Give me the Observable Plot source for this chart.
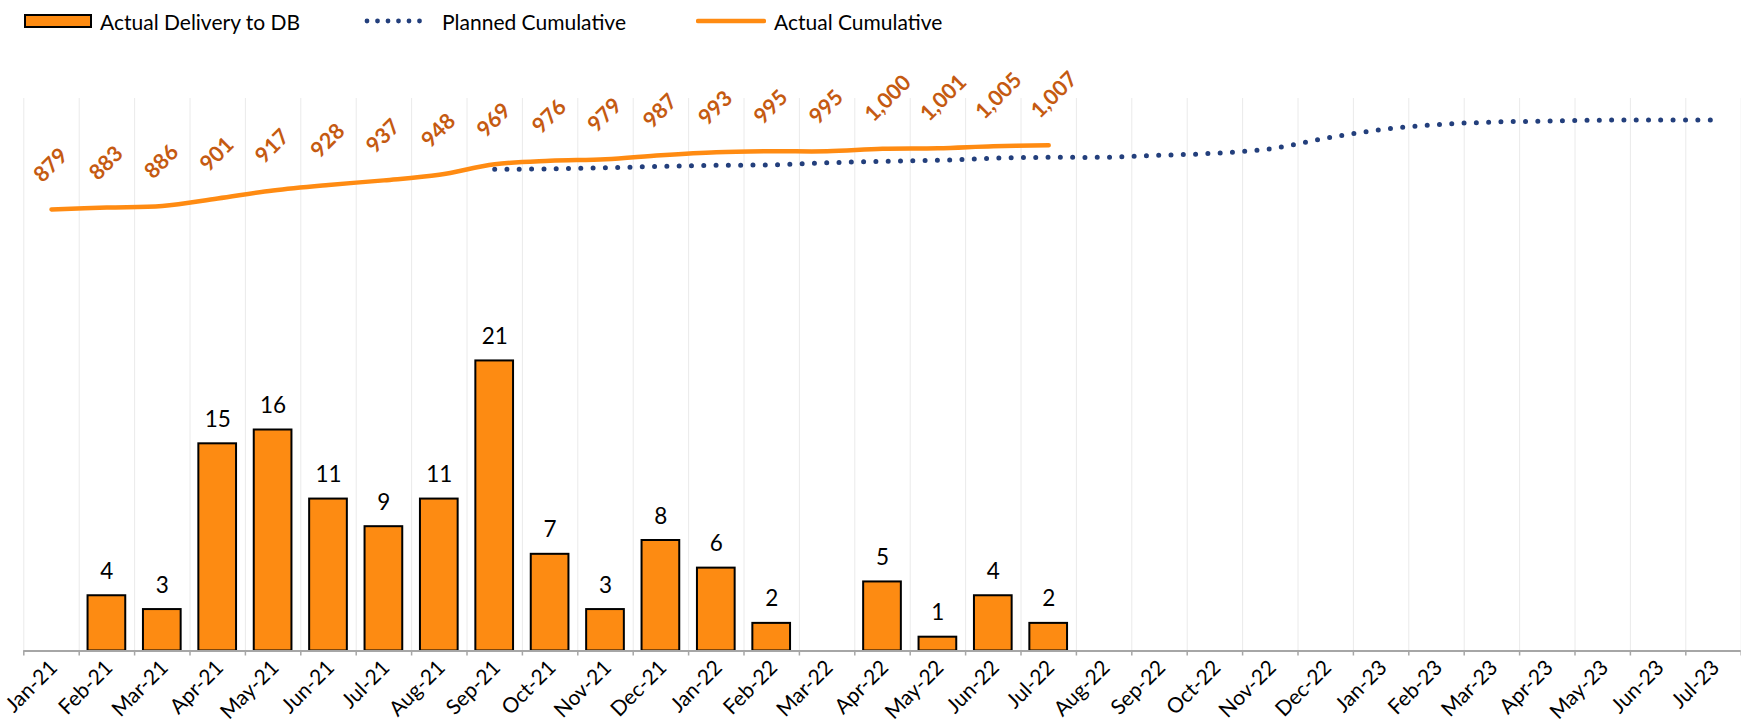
<!DOCTYPE html>
<html>
<head>
<meta charset="utf-8">
<script src="https://cdn.jsdelivr.net/npm/d3@7"></script>
<script src="https://cdn.jsdelivr.net/npm/@observablehq/plot@0.6"></script>
<style>
  body { margin: 0; background: #fff; font-family: Lato, "Open Sans", sans-serif; }
  #legend { position: relative; height: 40px; width: 1741px; }
  #legend .item { position: absolute; top: 0; height: 42px; display: flex; align-items: center; font-size: 21px; color: #000; white-space: nowrap; }
  #legend svg { display: block; }
</style>
</head>
<body>
<div id="legend"></div>
<div id="chart"></div>
<script>
// ---- data ----
const months = ["Jan-21","Feb-21","Mar-21","Apr-21","May-21","Jun-21","Jul-21","Aug-21","Sep-21","Oct-21","Nov-21","Dec-21",
  "Jan-22","Feb-22","Mar-22","Apr-22","May-22","Jun-22","Jul-22","Aug-22","Sep-22","Oct-22","Nov-22","Dec-22",
  "Jan-23","Feb-23","Mar-23","Apr-23","May-23","Jun-23","Jul-23"];
// Actual Delivery to DB (Jan-21 .. Jul-22), null = no bar
const delivery = [null,4,3,15,16,11,9,11,21,7,3,8,6,2,null,5,1,4,2];
// Actual Cumulative (Jan-21 .. Jul-22)
const actualCumulative = [879,883,886,901,917,928,937,948,969,976,979,987,993,995,995,1000,1001,1005,1007];
// Planned Cumulative (Sep-21 .. Jul-23)
const plannedStartMonth = "Sep-21";
const plannedCumulative = [959,960,962,965,967,968,972,975,977,981,983,983,987,991,1000,1021,1038,1048,1053,1055,1057,1057,1057];
const seriesNames = ["Actual Delivery to DB","Planned Cumulative","Actual Cumulative"];
const barMax = 40;      // primary axis max
const cumMax = 1100;    // secondary axis max

// ---- colours ----
const barFill = "#FD8B12", lineOrange = "#FF8B12", planBlue = "#233F7C", labelOrange = "#C55A11";

// ---- legend ----
const legend = document.getElementById("legend");
legend.innerHTML = `
  <div class="item" style="left:24px">
    <svg width="68" height="14"><rect x="1" y="1" width="66" height="12" fill="${barFill}" stroke="#000" stroke-width="2"/></svg>
    <span style="margin-left:8px">${seriesNames[0]}</span>
  </div>
  <div class="item" style="left:364px">
    <svg width="70" height="10"><line x1="3" y1="5" x2="66" y2="5" stroke="${planBlue}" stroke-width="4.8" stroke-linecap="round" stroke-dasharray="0 10.5"/></svg>
    <span style="margin-left:8px">${seriesNames[1]}</span>
  </div>
  <div class="item" style="left:696px">
    <svg width="70" height="10"><line x1="2" y1="5" x2="68" y2="5" stroke="${lineOrange}" stroke-width="4.5" stroke-linecap="round"/></svg>
    <span style="margin-left:8px">${seriesNames[2]}</span>
  </div>`;

// ---- tables ----
const barData = delivery.map((v, i) => ({i, v})).filter(d => d.v != null);
const actualData = actualCumulative.map((v, i) => ({i, v}));
const p0 = months.indexOf(plannedStartMonth);
const plannedData = plannedCumulative.map((v, k) => ({i: k + p0, v}));
const bounds = d3.range(months.length + 1);
const cum = v => v * barMax / cumMax;
const fmt = d3.format(",");

const chart = Plot.plot({
  width: 1741,
  height: 686,
  marginTop: 58,
  marginBottom: 75.5,
  marginLeft: 23.3,
  marginRight: 0.3,
  x: {domain: [0, months.length], axis: null},
  y: {domain: [0, barMax], axis: null},
  style: {fontFamily: "Lato, 'Open Sans', sans-serif", background: "white", overflow: "visible"},
  marks: [
    Plot.ruleX(bounds, {x: d => d, y1: 0, y2: barMax, stroke: "#EAEAEA", strokeWidth: 1}),
    Plot.rectY(barData, {x1: d => d.i, x2: d => d.i + 1, y1: 0, y2: d => d.v, insetLeft: 8.85, insetRight: 8.85,
      fill: barFill, stroke: "#000", strokeWidth: 2}),
    Plot.text(barData, {x: d => d.i + 0.5, y: d => d.v, text: d => String(d.v), dy: -17, lineAnchor: "bottom",
      fontSize: 22.5, fill: "#000"}),
    Plot.ruleY([0], {stroke: "#A6A6A6", strokeWidth: 2}),
    Plot.axisX(bounds, {tickSize: 5, tickFormat: () => "", stroke: "#A6A6A6", strokeWidth: 1.5}),
    Plot.text(months, {x: (d, i) => i + 0.5, y: 0, text: d => d, rotate: -45, textAnchor: "end", lineAnchor: "bottom",
      dx: 7, dy: 18, fontSize: 21, fill: "#000"}),
    Plot.line(plannedData, {x: d => d.i + 0.5, y: d => cum(d.v), stroke: planBlue, strokeWidth: 5,
      strokeDasharray: "0 12.3", strokeLinecap: "round", curve: "catmull-rom"}),
    Plot.line(actualData, {x: d => d.i + 0.5, y: d => cum(d.v), stroke: lineOrange, strokeWidth: 4.5,
      strokeLinecap: "round", curve: "catmull-rom"}),
    Plot.text(actualData, {x: d => d.i + 0.5, y: d => cum(d.v), text: d => fmt(d.v), rotate: -45, textAnchor: "start",
      lineAnchor: "bottom", dx: -9, dy: -26, fontSize: 21.5, fontWeight: "bold", fill: labelOrange})
  ]
});
document.getElementById("chart").appendChild(chart);
</script>
</body>
</html>
